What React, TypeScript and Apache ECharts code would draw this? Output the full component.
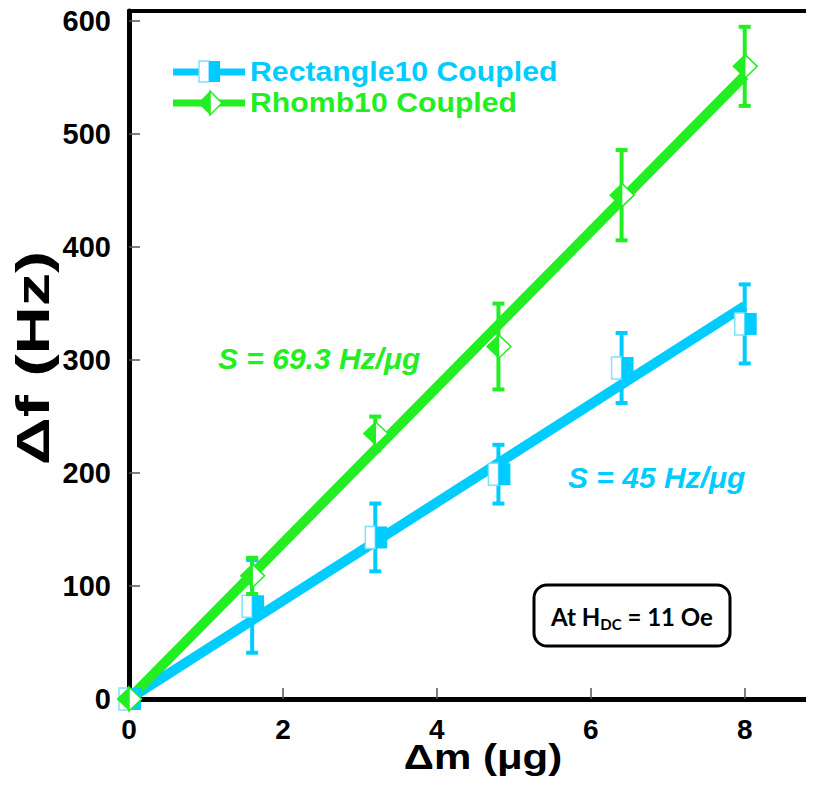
import React, { useEffect, useRef } from "react";
import * as echarts from "echarts";

// ---- data ----
const massX = [0, 1.6, 3.2, 4.8, 6.4, 8];
const rectVals = [0, 82, 143, 199, 293, 332];
const rectErr = [0, 41, 30, 26, 31, 35];
const rhombVals = [0, 109, 235, 312, 446, 560];
const rhombErr = [0, 16, 15, 38, 40, 35];
const fitX = [0, 8];
const rectFitY = [0, 348];
const rhombFitY = [0, 552];
const xTicks = [0, 2, 4, 6, 8];

const BLUE = "#00CCFF";
const BLUE_LIGHT = "#80E0FF";
const GREEN = "#22EE22";
const FONT = "'Liberation Sans', Arial, sans-serif";

function makeRender(kind: "rect" | "rhomb", color: string) {
  return (params: any, api: any) => {
    const x = api.value(0);
    const y = api.value(1);
    const e = api.value(2);
    const c = api.coord([x, y]);
    const children: any[] = [];
    if (e > 0) {
      const t = api.coord([x, y + e]);
      const b = api.coord([x, y - e]);
      children.push({
        type: "line",
        shape: { x1: c[0], y1: t[1], x2: c[0], y2: b[1] },
        style: { stroke: color, lineWidth: 4 },
      });
      children.push({
        type: "rect",
        shape: { x: c[0] - 6, y: t[1] - 2, width: 12, height: 4 },
        style: { fill: color },
      });
      children.push({
        type: "rect",
        shape: { x: c[0] - 6, y: b[1] - 2, width: 12, height: 4 },
        style: { fill: color },
      });
    }
    if (kind === "rect") {
      children.push({
        type: "rect",
        shape: { x: c[0] - 10, y: c[1] - 11, width: 10, height: 22 },
        style: { fill: "#fff", stroke: BLUE_LIGHT, lineWidth: 1.5 },
      });
      children.push({
        type: "rect",
        shape: { x: c[0], y: c[1] - 11, width: 12, height: 22 },
        style: { fill: color },
      });
    } else {
      children.push({
        type: "polygon",
        shape: { points: [[c[0] - 12.5, c[1]], [c[0], c[1] - 12], [c[0], c[1] + 12]] },
        style: { fill: color },
      });
      children.push({
        type: "polygon",
        shape: { points: [[c[0], c[1] - 12], [c[0] + 12.5, c[1]], [c[0], c[1] + 12]] },
        style: { fill: "#fff", stroke: color, lineWidth: 1.5 },
      });
    }
    return { type: "group", children };
  };
}

export default function App() {
  const ref = useRef<HTMLDivElement>(null);
  useEffect(() => {
    if (!ref.current) return;
    const chart = echarts.init(ref.current, null, { renderer: "svg" });
    const axisLine = { show: true, lineStyle: { color: "#000", width: 5 } };
    const option: any = {
      animation: false,
      backgroundColor: "#fff",
      grid: { left: 129, right: 0, top: 11, bottom: 88 },
      xAxis: [
        {
          type: "value",
          min: 0,
          max: 8.9,
          interval: 2,
          axisLine,
          axisTick: { show: true, inside: true, length: 11, lineStyle: { color: "#555", width: 1.5 } },
          axisLabel: {
            fontFamily: FONT,
            fontWeight: "bold",
            fontSize: 28,
            color: "#000",
            margin: 16,
            customValues: xTicks,
          },
          splitLine: { show: false },
        },
        {
          type: "value",
          position: "top",
          min: 0,
          max: 8.9,
          axisLine: { show: true, lineStyle: { color: "#000", width: 4 } },
          axisTick: { show: false },
          axisLabel: { show: false },
          splitLine: { show: false },
        },
      ],
      yAxis: {
        type: "value",
        min: 0,
        max: 609,
        interval: 100,
        axisLine,
        axisTick: { show: true, inside: true, length: 11, lineStyle: { color: "#555", width: 1.5 } },
        axisLabel: {
          fontFamily: FONT,
          fontWeight: "bold",
          fontSize: 29,
          color: "#000",
          margin: 18,
          showMaxLabel: false,
        },
        splitLine: { show: false },
      },
      series: [
        {
          type: "line",
          data: fitX.map((x, i) => [x, rectFitY[i]]),
          showSymbol: false,
          lineStyle: { color: BLUE, width: 10 },
          z: 2,
        },
        {
          type: "line",
          data: fitX.map((x, i) => [x, rhombFitY[i]]),
          showSymbol: false,
          lineStyle: { color: GREEN, width: 10 },
          z: 2,
        },
        {
          type: "custom",
          name: "Rectangle10 Coupled",
          clip: false,
          z: 3,
          renderItem: makeRender("rect", BLUE),
          data: massX.map((x, i) => [x, rectVals[i], rectErr[i]]),
        },
        {
          type: "custom",
          name: "Rhomb10 Coupled",
          clip: false,
          z: 4,
          renderItem: makeRender("rhomb", GREEN),
          data: massX.map((x, i) => [x, rhombVals[i], rhombErr[i]]),
        },
      ],
      graphic: [
        // legend
        { type: "line", shape: { x1: 173, y1: 72, x2: 245, y2: 72 }, style: { stroke: BLUE, lineWidth: 7 } },
        { type: "rect", shape: { x: 199, y: 61, width: 10, height: 21 }, style: { fill: "#fff", stroke: BLUE_LIGHT, lineWidth: 1.5 } },
        { type: "rect", shape: { x: 209, y: 61, width: 11, height: 21 }, style: { fill: BLUE } },
        {
          type: "text",
          x: 250,
          y: 72,
          scaleX: 1.12,
          style: { text: "Rectangle10 Coupled", fill: BLUE, font: `bold 27px ${FONT}`, verticalAlign: "middle" },
        },
        { type: "line", shape: { x1: 173, y1: 103, x2: 245, y2: 103 }, style: { stroke: GREEN, lineWidth: 7 } },
        { type: "polygon", shape: { points: [[198, 103], [210, 91], [210, 115]] }, style: { fill: GREEN } },
        { type: "polygon", shape: { points: [[210, 91], [222, 103], [210, 115]] }, style: { fill: "#fff", stroke: GREEN, lineWidth: 1.5 } },
        {
          type: "text",
          x: 250,
          y: 103,
          scaleX: 1.12,
          style: { text: "Rhomb10 Coupled", fill: GREEN, font: `bold 27px ${FONT}`, verticalAlign: "middle" },
        },
        // slope annotations
        {
          type: "text",
          x: 218,
          y: 358,
          style: { text: "S = 69.3 Hz/μg", fill: GREEN, font: `italic bold 30px ${FONT}`, verticalAlign: "middle" },
        },
        {
          type: "text",
          x: 568,
          y: 477,
          style: { text: "S = 45 Hz/μg", fill: BLUE, font: `italic bold 30px ${FONT}`, verticalAlign: "middle" },
        },
        // field box
        {
          type: "rect",
          shape: { x: 534, y: 585, width: 196, height: 61, r: 13 },
          style: { fill: "#fff", stroke: "#000", lineWidth: 3 },
        },
        {
          type: "text",
          x: 632,
          y: 616,
          style: {
            text: "{a|At H}{s|DC}{a| = 11 Oe}",
            align: "center",
            verticalAlign: "middle",
            rich: {
              a: { fontFamily: "Lato, 'Open Sans', sans-serif", fontWeight: "bold", fontSize: 24, fill: "#000", lineHeight: 30, verticalAlign: "middle" },
              s: { fontFamily: "Lato, 'Open Sans', sans-serif", fontWeight: "bold", fontSize: 15, fill: "#000", lineHeight: 30, verticalAlign: "bottom" },
            },
          },
        },
        // axis titles
        {
          type: "text",
          x: 483,
          y: 757,
          scaleX: 1.2,
          style: { text: "Δm (μg)", fill: "#000", font: `bold 35px ${FONT}`, align: "center", verticalAlign: "middle" },
        },
        {
          type: "text",
          x: 33,
          y: 358,
          rotation: Math.PI / 2,
          scaleX: 1.45,
          style: { text: "Δf (Hz)", fill: "#000", font: `bold 46px ${FONT}`, align: "center", verticalAlign: "middle" },
        },
      ],
    };
    chart.setOption(option);
    return () => chart.dispose();
  }, []);
  return <div ref={ref} style={{ width: 814, height: 787, margin: -8 }} />;
}
